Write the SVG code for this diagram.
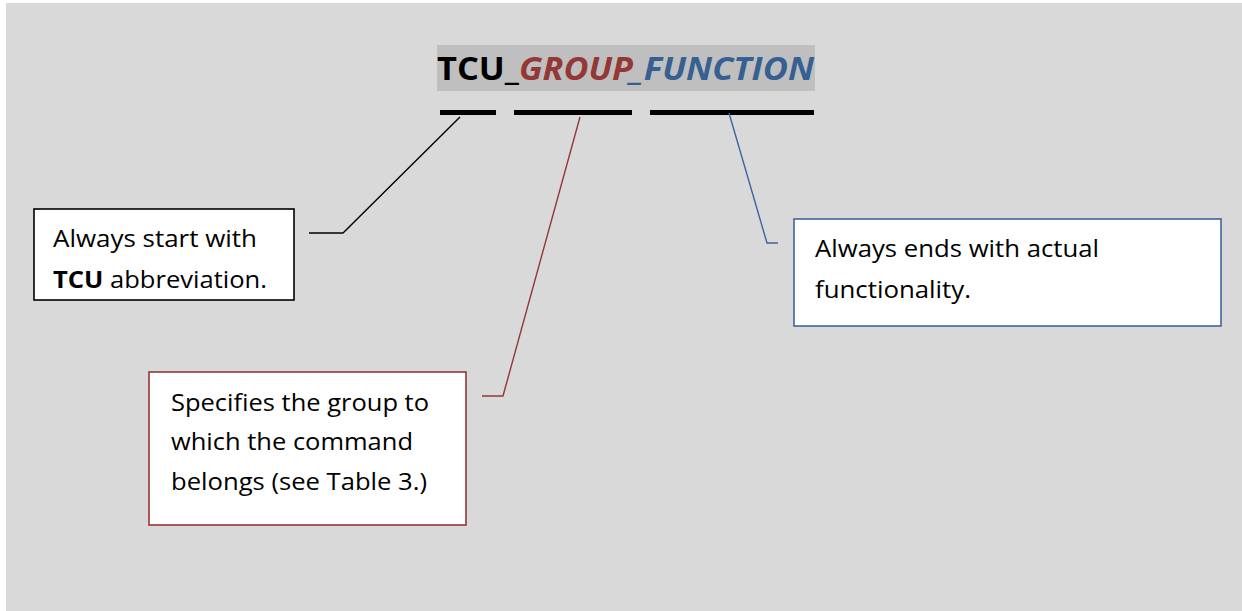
<svg xmlns="http://www.w3.org/2000/svg" width="1242" height="611" viewBox="0 0 1242 611">
<style>
.t{font-family:"Open Sans","Noto Sans","Liberation Sans",sans-serif;font-size:24px;fill:#000}
.ti{font-family:"Open Sans","Noto Sans","Liberation Sans",sans-serif;font-size:33px;font-weight:bold}
.box{fill:#fff;stroke-width:1.6}
.ln{fill:none;stroke-width:1.4}
</style>
<rect x="0" y="0" width="1242" height="611" fill="#fff"/>
<rect x="6" y="3" width="1236" height="608" fill="#d9d9d9"/>
<g id="title">
<rect x="437" y="45" width="378" height="46" fill="#bfbfbf"/>
<text class="ti" y="79.5"><tspan x="437" textLength="82" lengthAdjust="spacingAndGlyphs" fill="#000">TCU_</tspan><tspan x="519" textLength="114" lengthAdjust="spacingAndGlyphs" fill="#953735" font-style="italic">GROUP</tspan><tspan x="630" textLength="184" lengthAdjust="spacingAndGlyphs" fill="#376092" font-style="italic">_FUNCTION</tspan></text>
<rect x="440" y="110" width="56" height="5" fill="#000"/>
<rect x="514" y="110" width="118" height="5" fill="#000"/>
<rect x="650" y="110" width="164" height="5" fill="#000"/>
</g>
<g id="connectors">
<polyline class="ln" stroke="#000" points="460,117 343,233 309,233"/>
<polyline class="ln" stroke="#953735" points="580,117 503,396 482,396"/>
<polyline class="ln" stroke="#3d64a0" points="729,113 767,243 778,243"/>
</g>
<g id="box-tcu">
<rect class="box" x="34" y="209" width="260" height="91" stroke="#000"/>
<text class="t" x="53" y="247" textLength="204" lengthAdjust="spacingAndGlyphs">Always start with</text>
<text class="t" x="53" y="288" textLength="214" lengthAdjust="spacingAndGlyphs"><tspan font-weight="bold">TCU</tspan> abbreviation.</text>
</g>
<g id="box-function">
<rect class="box" x="794" y="219" width="427" height="107" stroke="#3d64a0"/>
<text class="t" x="815" y="257" textLength="284" lengthAdjust="spacingAndGlyphs">Always ends with actual</text>
<text class="t" x="815" y="298" textLength="156" lengthAdjust="spacingAndGlyphs">functionality.</text>
</g>
<g id="box-group">
<rect class="box" x="149" y="372" width="317" height="153" stroke="#953735"/>
<text class="t" x="171" y="411" textLength="258" lengthAdjust="spacingAndGlyphs">Specifies the group to</text>
<text class="t" x="171" y="450" textLength="242" lengthAdjust="spacingAndGlyphs">which the command</text>
<text class="t" x="171" y="490" textLength="256" lengthAdjust="spacingAndGlyphs">belongs (see Table 3.)</text>
</g>
</svg>
